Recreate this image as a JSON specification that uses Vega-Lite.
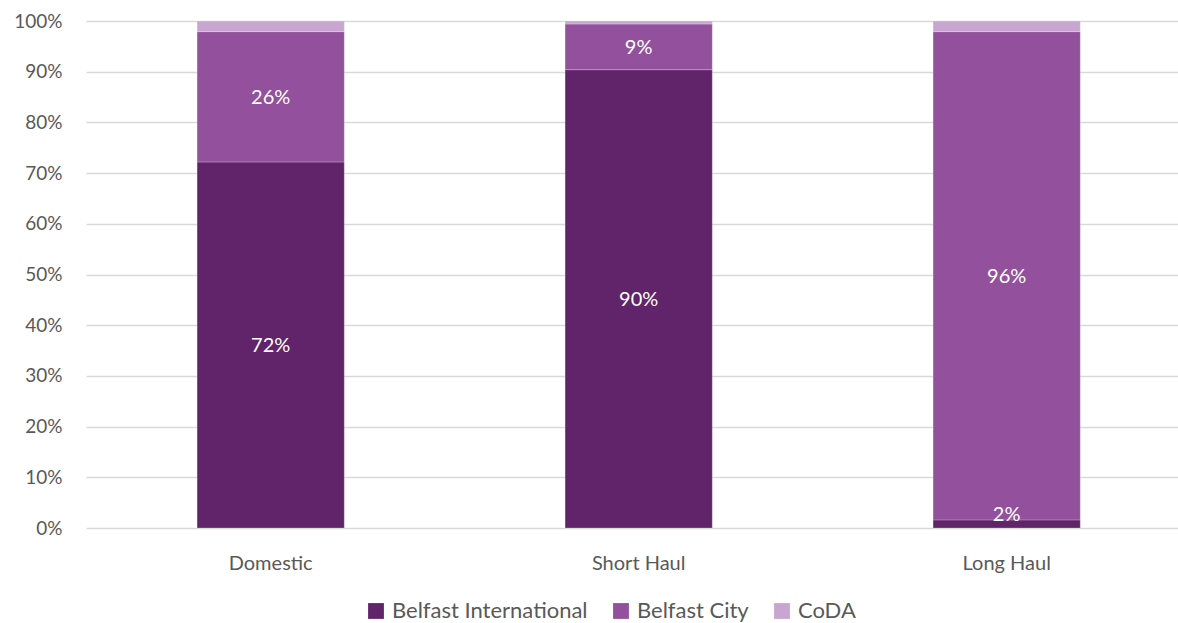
{
  "$schema": "https://vega.github.io/schema/vega-lite/v6.json",
  "width": 1092,
  "height": 507,
  "autosize": {"type": "none"},
  "padding": {"left": 86, "top": 21, "right": 0, "bottom": 95},
  "background": "white",
  "config": {
    "font": "Lato",
    "view": {"stroke": null},
    "axis": {"labelFont": "Lato", "labelColor": "#595959", "labelFontSize": 19}
  },
  "data": {
    "values": [
      {"category": "Domestic", "airport": "Belfast International", "k": 1, "share": 0.722},
      {"category": "Domestic", "airport": "Belfast City", "k": 2, "share": 0.257},
      {"category": "Domestic", "airport": "CoDA", "k": 3, "share": 0.021},
      {"category": "Short Haul", "airport": "Belfast International", "k": 1, "share": 0.904},
      {"category": "Short Haul", "airport": "Belfast City", "k": 2, "share": 0.090},
      {"category": "Short Haul", "airport": "CoDA", "k": 3, "share": 0.006},
      {"category": "Long Haul", "airport": "Belfast International", "k": 1, "share": 0.016},
      {"category": "Long Haul", "airport": "Belfast City", "k": 2, "share": 0.963},
      {"category": "Long Haul", "airport": "CoDA", "k": 3, "share": 0.021}
    ]
  },
  "transform": [
    {"stack": "share", "groupby": ["category"], "sort": [{"field": "k", "order": "ascending"}], "as": ["y0", "y1"]}
  ],
  "encoding": {
    "x": {
      "field": "category",
      "type": "nominal",
      "sort": ["Domestic", "Short Haul", "Long Haul"],
      "scale": {"paddingInner": 0.6, "paddingOuter": 0.2837, "align": 0.532},
      "axis": {"title": null, "labelAngle": 0, "ticks": false, "domain": false, "labelPadding": 25, "labelFontSize": 20, "grid": false}
    }
  },
  "layer": [
    {
      "mark": {"type": "bar", "stroke": "white", "strokeWidth": 0.6, "strokeOpacity": 0.4},
      "encoding": {
        "y": {
          "field": "y0",
          "type": "quantitative",
          "scale": {"domain": [0, 1]},
          "axis": {"title": null, "format": ".0%", "values": [0,0.1,0.2,0.3,0.4,0.5,0.6,0.7,0.8,0.9,1], "labelOverlap": false, "ticks": false, "domain": false, "labelPadding": 24, "gridColor": "#d9d9d9", "gridWidth": 1.3}
        },
        "y2": {"field": "y1"},
        "color": {
          "field": "airport",
          "type": "nominal",
          "scale": {"domain": ["Belfast International", "Belfast City", "CoDA"], "range": ["#61246a", "#92509d", "#c9a6d1"]},
          "legend": {
            "title": null,
            "orient": "none",
            "direction": "horizontal",
            "legendX": 279,
            "legendY": 579,
            "symbolType": "square",
            "symbolSize": 250,
            "symbolStrokeWidth": 0,
            "labelFontSize": 22,
            "labelColor": "#595959",
            "labelFont": "Lato",
            "labelLimit": 0,
            "columnPadding": 22,
            "labelOffset": 5
          }
        }
      }
    },
    {
      "transform": [
        {"filter": "datum.k < 3 && datum.share >= 0.05"},
        {"fold": ["y0", "y1"], "as": ["edge", "pos"]},
        {"aggregate": [{"op": "mean", "field": "pos", "as": "mid"}], "groupby": ["category", "airport", "share"]}
      ],
      "mark": {"type": "text", "color": "white", "fontSize": 20, "font": "Lato", "baseline": "middle", "dy": 1},
      "encoding": {
        "y": {"field": "mid", "type": "quantitative"},
        "text": {"field": "share", "type": "quantitative", "format": ".0%"}
      }
    },
    {
      "transform": [
        {"filter": "datum.k < 3 && datum.share < 0.05"},
        {"fold": ["y0", "y1"], "as": ["edge", "pos"]},
        {"aggregate": [{"op": "mean", "field": "pos", "as": "mid"}], "groupby": ["category", "airport", "share"]}
      ],
      "mark": {"type": "text", "color": "white", "fontSize": 20, "font": "Lato", "baseline": "middle", "dy": -9},
      "encoding": {
        "y": {"field": "mid", "type": "quantitative"},
        "text": {"field": "share", "type": "quantitative", "format": ".0%"}
      }
    }
  ]
}
